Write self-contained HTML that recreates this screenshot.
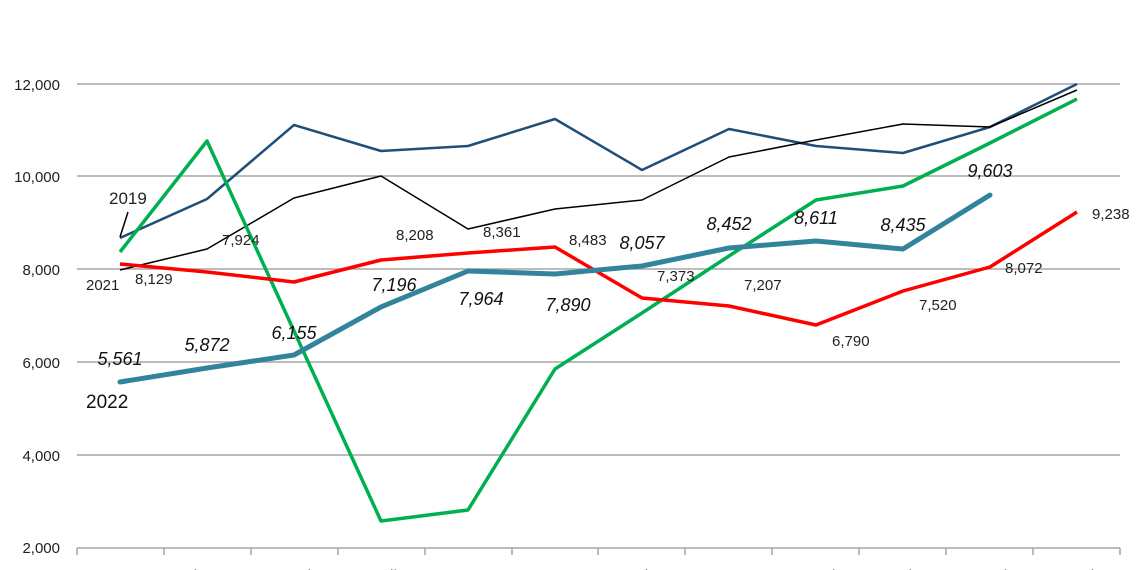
<!DOCTYPE html>
<html><head><meta charset="utf-8"><style>
html,body{margin:0;padding:0;background:#fff;}
svg{display:block;font-family:"Liberation Sans",sans-serif;}
</style></head><body>
<svg width="1140" height="570" viewBox="0 0 1140 570" xmlns="http://www.w3.org/2000/svg">
<g stroke="#a6a6a6" stroke-width="1.5">
<line x1="77" y1="84" x2="1120" y2="84"/>
<line x1="77" y1="176" x2="1120" y2="176"/>
<line x1="77" y1="269" x2="1120" y2="269"/>
<line x1="77" y1="362" x2="1120" y2="362"/>
<line x1="77" y1="455" x2="1120" y2="455"/>
<line x1="77" y1="548" x2="1120" y2="548"/>
<line x1="77" y1="548" x2="77" y2="555"/><line x1="164" y1="548" x2="164" y2="555"/><line x1="251" y1="548" x2="251" y2="555"/><line x1="338" y1="548" x2="338" y2="555"/><line x1="425" y1="548" x2="425" y2="555"/><line x1="512" y1="548" x2="512" y2="555"/><line x1="598" y1="548" x2="598" y2="555"/><line x1="685" y1="548" x2="685" y2="555"/><line x1="772" y1="548" x2="772" y2="555"/><line x1="859" y1="548" x2="859" y2="555"/><line x1="946" y1="548" x2="946" y2="555"/><line x1="1033" y1="548" x2="1033" y2="555"/><line x1="1120" y1="548" x2="1120" y2="555"/>
</g>
<g font-size="15" fill="#222" text-anchor="end">
<text x="60" y="90">12,000</text><text x="60" y="182">10,000</text><text x="60" y="275">8,000</text><text x="60" y="368">6,000</text><text x="60" y="461">4,000</text><text x="60" y="553">2,000</text>
</g>
<g font-size="16" fill="#222" text-anchor="middle">
<text x="120" y="581">January</text><text x="207" y="581">February</text><text x="294" y="581">March</text><text x="381" y="581">April</text><text x="468" y="581">May</text><text x="555" y="581">June</text><text x="642" y="581">July</text><text x="729" y="581">August</text><text x="816" y="581">September</text><text x="903" y="581">October</text><text x="990" y="581">November</text><text x="1077" y="581">December</text>
</g>
<g fill="none" stroke-linejoin="round">
<polyline stroke="#1f4e79" stroke-width="2.5" points="120,238 207,199 294,125 381,151 468,146 555,119 642,170 729,129 816,146 903,153 990,127 1077,84"/>
<polyline stroke="#000" stroke-width="1.5" points="120,270 207,249 294,198 381,176 468,229 555,209 642,200 729,157 816,140 903,124 990,127 1077,90"/>
<polyline stroke="#00b050" stroke-width="3.5" points="120,252 207,141 294,331 381,521 468,510 555,369 642,313 729,256 816,200 903,186 990,143 1077,99"/>
<polyline stroke="#ff0000" stroke-width="3.5" points="120,264 207,272 294,282 381,260 468,253 555,247 642,298 729,306 816,325 903,291 990,267 1077,212"/>
<polyline stroke="#31849b" stroke-width="5" stroke-linecap="round" points="120,382 207,368 294,355 381,307 468,271 555,274 642,266 729,248 816,241 903,249 990,195"/>
<line x1="128" y1="212" x2="120" y2="237" stroke="#000" stroke-width="1.5"/>
</g>
<g font-size="15" fill="#222">
<text x="109" y="204" font-size="17">2019</text>
<text x="86" y="290">2021</text>
<text x="135" y="284">8,129</text>
<text x="222" y="245">7,924</text>
<text x="396" y="240">8,208</text>
<text x="483" y="237">8,361</text>
<text x="569" y="245">8,483</text>
<text x="657" y="281">7,373</text>
<text x="744" y="290">7,207</text>
<text x="832" y="346">6,790</text>
<text x="919" y="310">7,520</text>
<text x="1005" y="273">8,072</text>
<text x="1092" y="219">9,238</text>
</g>
<text x="86" y="408" font-size="19" fill="#111">2022</text>
<g font-size="18" font-style="italic" fill="#111" text-anchor="middle">
<text x="120" y="365">5,561</text>
<text x="207" y="351">5,872</text>
<text x="294" y="339">6,155</text>
<text x="394" y="291">7,196</text>
<text x="481" y="305">7,964</text>
<text x="568" y="311">7,890</text>
<text x="642" y="249">8,057</text>
<text x="729" y="230">8,452</text>
<text x="816" y="224">8,611</text>
<text x="903" y="231">8,435</text>
<text x="990" y="177">9,603</text>
</g>
</svg>
</body></html>
